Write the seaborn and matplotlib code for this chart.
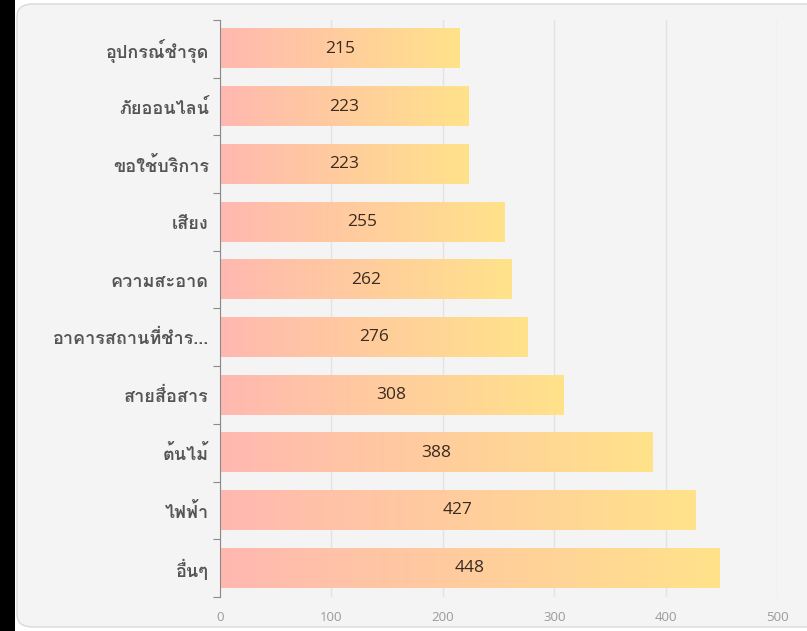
import numpy as np
import pandas as pd
import seaborn as sns
import matplotlib.pyplot as plt
from matplotlib import font_manager
from matplotlib.ft2font import FT2Font
from matplotlib.colors import LinearSegmentedColormap
from matplotlib.patches import FancyBboxPatch, Rectangle

# ================================================= [ data ] =========================================================
categories = ["อุปกรณ์ชำรุด", "ภัยออนไลน์", "ขอใช้บริการ", "เสียง", "ความสะอาด",
              "อาคารสถานที่ชำร...", "สายสื่อสาร", "ต้นไม้", "ไฟฟ้า", "อื่นๆ"]
counts = [215, 223, 223, 255, 262, 276, 308, 388, 427, 448]
x_ticks = [0, 100, 200, 300, 400, 500]

df = pd.DataFrame({"category": categories, "count": counts})

# ================================================= [ fonts ] ========================================================
# look for an installed family that covers Thai, preferring one with a bold face
thai_regular, thai_bold = None, None
for f in font_manager.fontManager.ttflist:
    try:
        if ord("ก") in FT2Font(f.fname).get_charmap():
            w = f.weight if isinstance(f.weight, int) else 400
            if w >= 600 and thai_bold is None:
                thai_bold = f.name
            if thai_regular is None:
                thai_regular = f.name
    except Exception:
        pass
thai_font = thai_bold or thai_regular

sns.set_style("white")
families = ["Open Sans", "DejaVu Sans"]
if thai_font:
    families = [thai_font] + families
plt.rcParams["font.family"] = families

# ================================================= [ figure ] =======================================================
fig = plt.figure(figsize=(8.07, 6.31), dpi=100, facecolor="white")

# dark strip on the left + rounded panel
fig.patches.append(Rectangle((0, 0), 15 / 807, 1, transform=fig.transFigure,
                             facecolor="black", edgecolor="none", zorder=-3))
fig.patches.append(FancyBboxPatch((17 / 807, 4 / 631), 1.0, 623 / 631,
                                  boxstyle="round,pad=0,rounding_size=0.02",
                                  transform=fig.transFigure, facecolor="#f4f4f4",
                                  edgecolor="#d9d9d9", linewidth=1, zorder=-2))

ax = fig.add_axes([220 / 807, 34 / 631, 557 / 807, 577 / 631])
ax.set_facecolor("none")

sns.barplot(data=df, x="count", y="category", orient="h", width=0.68, ax=ax)

cmap = LinearSegmentedColormap.from_list("pinkyellow", ["#ffb8b0", "#ffe28a"])
grad = np.linspace(0, 1, 256).reshape(1, -1)
for patch, val in zip(ax.patches, counts):
    x0, y0 = patch.get_x(), patch.get_y()
    w, h = patch.get_width(), patch.get_height()
    patch.set_facecolor("none")
    patch.set_edgecolor("none")
    ax.imshow(grad, cmap=cmap, aspect="auto", extent=(x0, x0 + w, y0 + h, y0), zorder=2)
    ax.text(x0 + w / 2, y0 + h / 2, str(val), ha="center", va="center",
            fontsize=12.5, color="#3a2b20", family=["Open Sans", "DejaVu Sans"], zorder=3)

ax.set_xlim(0, 500)
ax.set_ylim(len(categories) - 0.5, -0.5)
ax.set_xticks(x_ticks)
ax.set_xticklabels([str(t) for t in x_ticks], family=["Open Sans", "DejaVu Sans"])
ax.grid(axis="x", color="#e3e3e3", linewidth=1, zorder=0)
ax.set_axisbelow(True)

for s in ["top", "right", "bottom"]:
    ax.spines[s].set_visible(False)
ax.spines["left"].set_color("#8a8a8a")
ax.spines["left"].set_linewidth(0.8)

ax.set_yticks(np.arange(-0.5, len(categories), 1), minor=True)
ax.tick_params(axis="y", which="minor", length=5, color="#8a8a8a", width=0.8, left=True)
ax.tick_params(axis="y", which="major", length=0, pad=8, labelsize=13, labelcolor="#555555")
ax.tick_params(axis="x", length=0, pad=10, labelsize=9.5, labelcolor="#9a9a9a")
for lbl in ax.get_yticklabels():
    lbl.set_fontweight("bold")

ax.set_xlabel("")
ax.set_ylabel("")

plt.savefig("out.png", dpi=100, facecolor=fig.get_facecolor())
